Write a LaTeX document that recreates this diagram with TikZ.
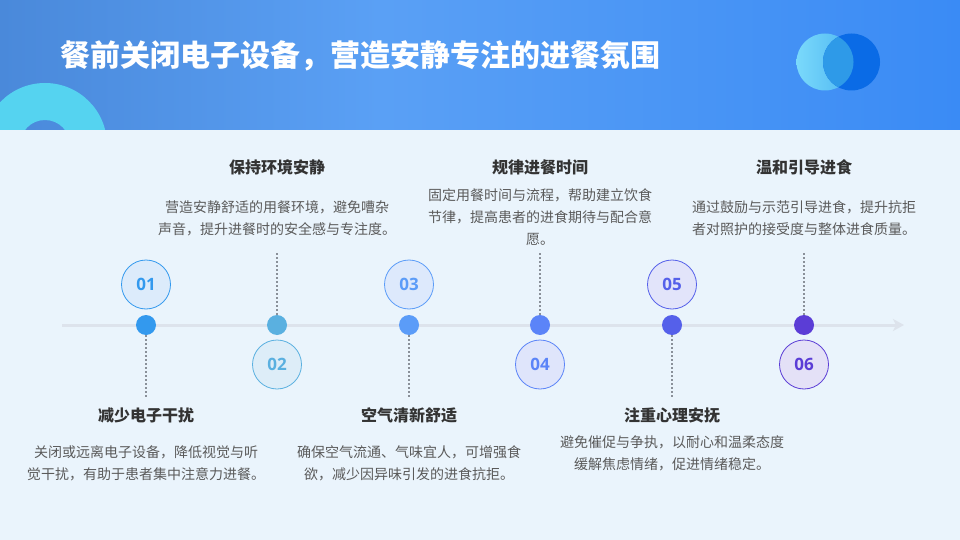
\documentclass[tikz,border=0pt]{standalone}
\usepackage{fontspec}
\setmainfont{Noto Sans CJK SC}
\newfontfamily\numfont{Open Sans}
\usetikzlibrary{arrows.meta}
\definecolor{bgc}{HTML}{EAF4FC}
\definecolor{hdA}{HTML}{4A89DA}
\definecolor{hdB}{HTML}{5AA0F5}
\definecolor{hdC}{HTML}{3A8BF5}
\definecolor{ringc}{HTML}{55D3F0}
\definecolor{cyA}{HTML}{7AD9FB}
\definecolor{cyB}{HTML}{4DB6F2}
\definecolor{blc}{HTML}{0A6BE6}
\definecolor{ovc}{HTML}{2E9AE8}
\definecolor{tlc}{HTML}{DDE3EC}
\definecolor{cA}{HTML}{3399EE}
\definecolor{cB}{HTML}{5AB0E0}
\definecolor{cC}{HTML}{5B9CF8}
\definecolor{cD}{HTML}{5B84F8}
\definecolor{cE}{HTML}{5560EA}
\definecolor{cF}{HTML}{5B3DD6}
\definecolor{fA}{HTML}{DCEBFB}
\definecolor{fB}{HTML}{DDEDF8}
\definecolor{fC}{HTML}{DDE9FC}
\definecolor{fD}{HTML}{DFE5FB}
\definecolor{fE}{HTML}{E2E4FA}
\definecolor{fF}{HTML}{E4E1F7}
\definecolor{ttc}{HTML}{333333}
\definecolor{dsc}{HTML}{5A5A5A}
\definecolor{dotc}{HTML}{8A9099}
\tikzset{
  dotnode/.style={circle, fill=#1, minimum size=20pt, inner sep=0pt},
  numnode/.style={circle, draw=#1, line width=0.8pt, minimum size=49pt, inner sep=0pt,
    text=#1, font=\numfont\bfseries\fontsize{17}{17}\selectfont},
  conn/.style={draw=dotc, line width=1.3pt, dash pattern=on 2pt off 2pt},
  ttl/.style={anchor=base, inner sep=0pt, text=ttc, font=\bfseries\fontsize{16}{16}\selectfont},
  dsc/.style={anchor=north, inner sep=0pt, align=center, text=dsc, font=\fontsize{14}{22}\selectfont},
}
\begin{document}
\begin{tikzpicture}[x=1pt,y=-1pt]
\useasboundingbox (0,0) rectangle (960,540);
% background
\fill[bgc] (0,0) rectangle (960,540);
% header
\shade[left color=hdA, right color=hdB] (0,0) rectangle (380,130);
\shade[left color=hdB, right color=hdC] (380,0) rectangle (960,130);
\begin{scope}
  \clip (0,0) rectangle (960,130);
  \fill[ringc, even odd rule] (45,145) circle (62) (45,145) circle (25);
\end{scope}
\shade[left color=cyA, right color=cyB] (825,62) circle (28.5);
\fill[blc] (851.5,62) circle (28.5);
\begin{scope}
  \clip (825,62) circle (28.5);
  \fill[ovc] (851.5,62) circle (28.5);
\end{scope}
\node[anchor=base west, inner sep=0pt, text=white, font=\bfseries\fontsize{30}{30}\selectfont] (title) at (60,66.5) {餐前关闭电子设备，营造安静专注的进餐氛围};
% timeline
\coordinate (tls) at (62,325);
\coordinate (tle) at (904,325);
\draw[tlc, line width=3pt, -{Stealth[length=11pt,width=12pt,inset=3pt]}] (tls) -- (tle);
% dots
\node[dotnode=cA] (d1) at (146,325) {};
\node[dotnode=cB] (d2) at (277,325) {};
\node[dotnode=cC] (d3) at (409,325) {};
\node[dotnode=cD] (d4) at (540,325) {};
\node[dotnode=cE] (d5) at (672,325) {};
\node[dotnode=cF] (d6) at (804,325) {};
% number circles
\node[numnode=cA, fill=fA] (n1) at (146,284.5) {01};
\node[numnode=cB, fill=fB] (n2) at (277,364.5) {02};
\node[numnode=cC, fill=fC] (n3) at (409,284.5) {03};
\node[numnode=cD, fill=fD] (n4) at (540,364.5) {04};
\node[numnode=cE, fill=fE] (n5) at (672,284.5) {05};
\node[numnode=cF, fill=fF] (n6) at (804,364.5) {06};
% connectors
\coordinate (e1) at (146,398);
\coordinate (e2) at (277,251);
\coordinate (e3) at (409,398);
\coordinate (e4) at (540,251);
\coordinate (e5) at (672,398);
\coordinate (e6) at (804,251);
\draw[conn] (d1.south) -- (e1);
\draw[conn] (d2.north) -- (e2);
\draw[conn] (d3.south) -- (e3);
\draw[conn] (d4.north) -- (e4);
\draw[conn] (d5.south) -- (e5);
\draw[conn] (d6.north) -- (e6);
% texts
\node[ttl] (t1) at (146,421) {减少电子干扰};
\node[dsc] (s1) at (146,445) {关闭或远离电子设备，降低视觉与听\\觉干扰，有助于患者集中注意力进餐。};
\node[ttl] (t2) at (277,174) {保持环境安静};
\node[dsc] (s2) at (277,200) {营造安静舒适的用餐环境，避免嘈杂\\声音，提升进餐时的安全感与专注度。};
\node[ttl] (t3) at (409,421) {空气清新舒适};
\node[dsc] (s3) at (409,445) {确保空气流通、气味宜人，可增强食\\欲，减少因异味引发的进食抗拒。};
\node[ttl] (t4) at (540,174) {规律进餐时间};
\node[dsc] (s4) at (540,188) {固定用餐时间与流程，帮助建立饮食\\节律，提高患者的进食期待与配合意\\愿。};
\node[ttl] (t5) at (672,421) {注重心理安抚};
\node[dsc] (s5) at (672,435) {避免催促与争执，以耐心和温柔态度\\缓解焦虑情绪，促进情绪稳定。};
\node[ttl] (t6) at (804,174) {温和引导进食};
\node[dsc] (s6) at (804,200) {通过鼓励与示范引导进食，提升抗拒\\者对照护的接受度与整体进食质量。};
\end{tikzpicture}
\end{document}
